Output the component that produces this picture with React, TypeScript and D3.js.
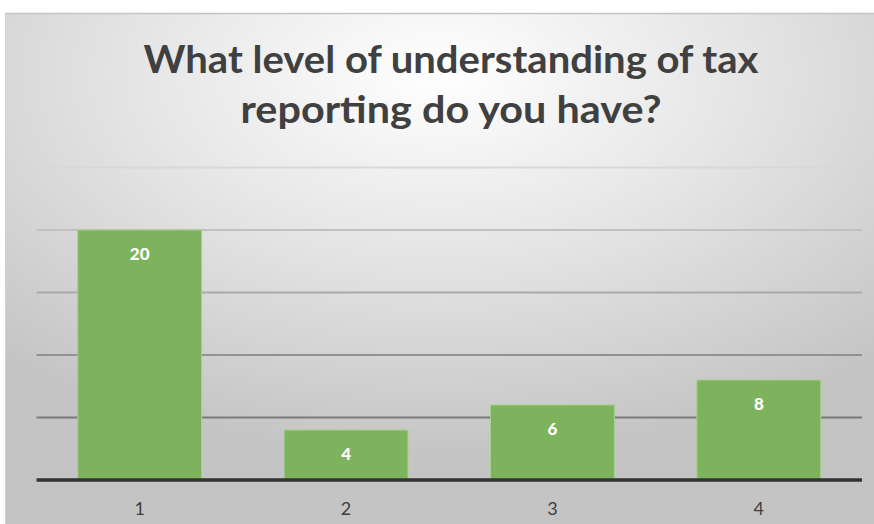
import React from "react";
import * as d3 from "d3";

const categories = ["1", "2", "3", "4"];
const values = [20, 4, 6, 8];
const yTicks = [0, 5, 10, 15, 20, 25];
const titleLines = ["What level of understanding of tax", "reporting do you have?"];
const titleWidths = [615, 421];

export default function App() {
  const W = 874, H = 524;
  const x = d3.scaleBand<string>().domain(categories).range([36.5, 862]).paddingInner(0.4).paddingOuter(0.2);
  const y = d3.scaleLinear().domain([0, 25]).range([480, 167.5]);
  const gridColor = d3.scaleLinear<string>().domain([25, 5]).range(["#d8d8d8", "#7a7a7a"]);
  return (
    <svg width={W} height={H} style={{ position: "absolute", left: 0, top: 0, display: "block" }}>
      <defs>
        <radialGradient id="bg" cx="0.5" cy="0.12" r="0.75" gradientUnits="objectBoundingBox">
          <stop offset="0" stopColor="#ffffff" />
          <stop offset="0.45" stopColor="#e6e6e6" />
          <stop offset="1" stopColor="#c4c4c4" />
        </radialGradient>
      </defs>
      <rect x={0} y={0} width={W} height={H} fill="#ffffff" />
      <rect x={5} y={13} width={W - 5} height={H - 13} fill="url(#bg)" />
      <line x1={5} x2={W} y1={13.5} y2={13.5} stroke="#c4c4c4" strokeWidth={1.5} />
      <line x1={5.5} x2={5.5} y1={13} y2={H} stroke="#d0d0d0" strokeWidth={1} />
      {titleLines.map((t, i) => (
        <text key={i} x={451} y={73 + i * 50} textAnchor="middle" textLength={titleWidths[i]} lengthAdjust="spacingAndGlyphs"
          fontFamily="Lato, 'Open Sans', sans-serif" fontWeight={700} fontSize={38} fill="#404040">{t}</text>
      ))}
      {yTicks.filter(v => v > 0).map(v => (
        <line key={v} x1={36.5} x2={862} y1={y(v)} y2={y(v)} stroke={gridColor(v)} strokeWidth={2} />
      ))}
      {values.map((v, i) => (
        <g key={i}>
          <rect x={x(categories[i])} y={y(v)} width={x.bandwidth()} height={y(0) - y(v)} fill="#7db35c" stroke="#a8d08d" strokeWidth={1} />
          <text x={(x(categories[i]) as number) + x.bandwidth() / 2} y={y(v) + 30} textAnchor="middle" fontFamily="Lato, 'Open Sans', sans-serif" fontWeight={900} fontSize={17} fill="#ffffff">{v}</text>
        </g>
      ))}
      <line x1={36.5} x2={862} y1={y(0)} y2={y(0)} stroke="#333333" strokeWidth={3.5} />
      {categories.map(c => (
        <text key={c} x={(x(c) as number) + x.bandwidth() / 2} y={515} textAnchor="middle" fontFamily="Lato, 'Open Sans', sans-serif" fontSize={18} fill="#404040">{c}</text>
      ))}
    </svg>
  );
}
